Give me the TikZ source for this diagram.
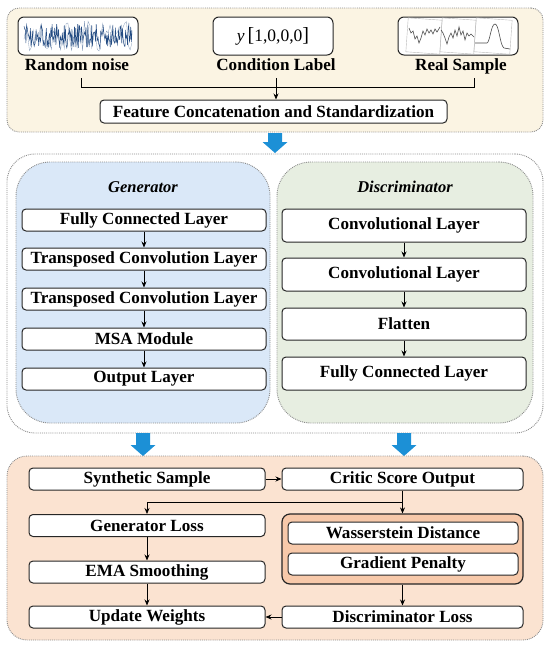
\documentclass[tikz,border=0pt]{standalone}
\usepackage{fontspec}
\setmainfont{Liberation Serif}
\usetikzlibrary{arrows.meta}
\definecolor{cream}{RGB}{251,244,227}
\definecolor{genblue}{RGB}{218,232,248}
\definecolor{discgreen}{RGB}{231,238,225}
\definecolor{peach}{RGB}{251,227,209}
\definecolor{groupor}{RGB}{247,201,170}
\definecolor{arrowblue}{RGB}{28,144,214}
\definecolor{noiseblue}{RGB}{35,75,130}
\definecolor{panelgray}{RGB}{140,140,140}
\newcommand\bluedown[3]{%
  \fill[arrowblue] ({#1-7},#2) -- ({#1+7},#2) -- ({#1+7},{#3-11}) -- ({#1+12.5},{#3-11})
    -- (#1,#3) -- ({#1-12.5},{#3-11}) -- ({#1-7},{#3-11}) -- cycle;}
\begin{document}
\begin{tikzpicture}[x=1pt,y=-1pt,
  font=\fontsize{17.1}{19}\selectfont\bfseries,
  panel/.style={draw=panelgray, line width=0.9pt, densely dotted, inner sep=0pt},
  box/.style={draw=black!85, line width=1pt, fill=white, rounded corners=4pt,
    inner sep=0pt, minimum width=244pt, minimum height=22pt},
  lbl/.style={inner sep=1pt, text height=12pt, text depth=3pt},
  conn/.style={draw=black, line width=0.8pt},
  arr/.style={conn, -{Stealth[length=6pt,width=5pt]}}]
\useasboundingbox (0,0) rectangle (550,648);

% ---------- top panel ----------
\node[panel, fill=cream, rounded corners=12pt, minimum width=536pt, minimum height=124pt] (top) at (275,70) {};
\node[box, rounded corners=6pt, minimum width=120pt, minimum height=38pt] (noise) at (78,36) {};
\node[box, rounded corners=6pt, minimum width=120pt, minimum height=38pt] (cond) at (273,36)
  {\fontsize{17.5}{19}\selectfont\mdseries\textit{y}\,\scalebox{1.15}{[}1,0,0,0\scalebox{1.15}{]}};
\node[box, rounded corners=6pt, minimum width=120pt, minimum height=38pt] (real) at (458,36) {};

% noise signal
\pgfmathsetseed{7}
\draw[noiseblue!55, line width=0.3pt] plot[domain=24:132, samples=60] (\x, {36+15*rand});
\draw[noiseblue, line width=0.5pt] plot[domain=24:132, samples=170] (\x, {36+12*rand});

% real sample thumbnails
\draw[gray!55, line width=0.4pt, rotate around={-4:(424,36)}] (407,19) rectangle (441,53);
\draw[gray!55, line width=0.4pt, rotate around={-4:(458,36)}] (441,19) rectangle (475,53);
\draw[gray!55, line width=0.4pt, rotate around={-4:(493,36)}] (475,19) rectangle (511,53);
\draw[black!70, line width=0.6pt] (409,28) -- (411,33) -- (413,31) -- (415,39) -- (417,36) -- (419,43)
  -- (421,38) -- (423,31) -- (425,35) -- (427,29) -- (429,33) -- (431,30) -- (433,34) -- (435,29)
  -- (437,32) -- (440,27);
\draw[black!70, line width=0.6pt] (441,30) -- (443,33) -- (445,38) -- (447,44) -- (449,37) -- (451,33)
  -- (453,38) -- (455,30) -- (457,36) -- (459,27) -- (461,35) -- (463,31) -- (465,40) -- (467,33)
  -- (469,36) -- (471,34) -- (474,37);
\draw[black!70, line width=0.6pt] (475,43) -- (487,43) .. controls (490,42) and (491,24) .. (495,24)
  .. controls (499,24) and (500,46) .. (504,48) -- (510,49);

\node[lbl] (noiselbl) at (77,66) {Random noise};
\node[lbl] (condlbl) at (276,66) {Condition Label};
\node[lbl] (reallbl) at (461,66) {Real Sample};

\node[box, minimum width=347pt, minimum height=23pt] (feat) at (273.5,111.5) {Feature Concatenation and Standardization};

\coordinate (bus) at (0,87);
\draw[conn] ([xshift=4pt,yshift=-3.5pt]noiselbl.south) -- ([xshift=4pt]noiselbl.south |- bus)
  -- ([xshift=13pt]reallbl.south |- bus) -- ([xshift=13pt,yshift=-3.5pt]reallbl.south);
\draw[arr] ([yshift=-3.5pt]condlbl.south) -- (condlbl.south |- feat.north);

\bluedown{275}{133}{153}

% ---------- middle panel ----------
\node[panel, fill=white, rounded corners=28pt, minimum width=536pt, minimum height=279pt] (mid) at (275,293.5) {};
\node[panel, fill=genblue, rounded corners=34pt, minimum width=254pt, minimum height=261pt] (gen) at (143,292.5) {};
\node[panel, fill=discgreen, rounded corners=34pt, minimum width=256pt, minimum height=261pt] (disc) at (405,292.5) {};

\node[lbl, font=\fontsize{16.5}{19}\selectfont\bfseries\itshape] (gentitle) at (143,188) {Generator};
\node[lbl, font=\fontsize{16.5}{19}\selectfont\bfseries\itshape] (disctitle) at (405,188) {Discriminator};

\node[box] (g1) at (144,220) {Fully Connected Layer};
\node[box] (g2) at (144,259) {Transposed Convolution Layer};
\node[box] (g3) at (144,299) {Transposed Convolution Layer};
\node[box] (g4) at (144,339) {MSA Module};
\node[box] (g5) at (144,379) {Output Layer};
\draw[arr] (g1) -- (g2);
\draw[arr] (g2) -- (g3);
\draw[arr] (g3) -- (g4);
\draw[arr] (g4) -- (g5);

\node[box, minimum height=33pt] (d1) at (404,225.5) {Convolutional Layer};
\node[box, minimum height=33pt] (d2) at (404,274.5) {Convolutional Layer};
\node[box, minimum height=32pt] (d3) at (404,324) {Flatten};
\node[box, minimum height=33pt] (d4) at (404,373.5) {Fully Connected Layer};
\draw[arr] (d1) -- (d2);
\draw[arr] (d2) -- (d3);
\draw[arr] (d3) -- (d4);

\bluedown{143}{433}{456}
\bluedown{404}{433}{456}

% ---------- bottom panel ----------
\node[panel, fill=peach, rounded corners=20pt, minimum width=536pt, minimum height=184pt] (bot) at (275,548) {};

\node[box, minimum width=236pt] (synth) at (147,479) {Synthetic Sample};
\node[box, minimum width=236pt] (genloss) at (147,525.5) {Generator Loss};
\node[box, minimum width=236pt] (ema) at (147,572) {EMA Smoothing};
\node[box, minimum width=236pt] (update) at (147,617) {Update Weights};

\node[box, minimum width=241pt] (critic) at (402.5,479) {Critic Score Output};
\node[draw=black!85, line width=1.2pt, fill=groupor, rounded corners=8pt, inner sep=0pt,
  minimum width=241pt, minimum height=70pt] (group) at (402.5,549) {};
\node[box, minimum width=230pt] (wass) at (403,533) {Wasserstein Distance};
\node[box, minimum width=230pt] (grad) at (403,564) {Gradient Penalty};
\node[box, minimum width=241pt] (discloss) at (402.5,617) {Discriminator Loss};

\coordinate (busb) at (0,502);
\draw[arr] (synth.east) -- (critic.west);
\draw[arr] (critic.south) -- (group.north);
\draw[arr] (critic.south |- busb) -| (genloss.north);
\draw[arr] (genloss) -- (ema);
\draw[arr] (ema) -- (update);
\draw[arr] (group.south) -- (discloss.north);
\draw[arr] (discloss.west) -- (update.east);
\end{tikzpicture}
\end{document}
